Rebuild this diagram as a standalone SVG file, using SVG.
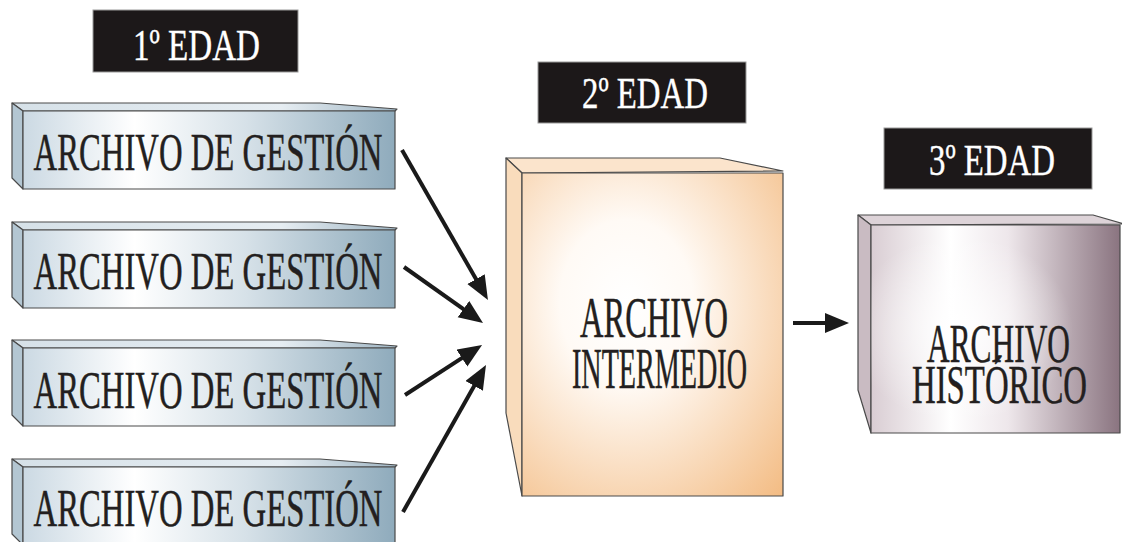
<svg xmlns="http://www.w3.org/2000/svg" width="1122" height="542" viewBox="0 0 1122 542">
  <defs>
    <style>
      .edge { stroke: #4a4a4a; stroke-width: 1.2; stroke-linejoin: round; }
      .lbl { fill: #1c1819; stroke: #9a9a9a; stroke-width: 1; }
      .lbl-txt { font-family: "Liberation Serif", "Times New Roman", serif; font-size: 45px; fill: #ffffff; stroke: #ffffff; stroke-width: 0.4; text-anchor: middle; }
      .box-txt { font-family: "Liberation Serif", "Times New Roman", serif; fill: #231f20; stroke: #231f20; stroke-width: 0.5; text-anchor: middle; }
      .arrow { stroke: #1a1a1a; stroke-width: 4; fill: none; marker-end: url(#head); }
    </style>
    <marker id="head" markerUnits="userSpaceOnUse" markerWidth="26" markerHeight="22" refX="10" refY="10" orient="auto" viewBox="0 0 26 22">
      <path d="M0,0 L24,10 L0,20 z" fill="#1a1a1a"/>
    </marker>
    <!-- management archive: steel blue -->
    <linearGradient id="gFrontBlue" x1="0" y1="0" x2="1" y2="0">
      <stop offset="0" stop-color="#cbd9e3"/>
      <stop offset="0.3" stop-color="#ffffff"/>
      <stop offset="0.6" stop-color="#d6e1e8"/>
      <stop offset="1" stop-color="#8fabbc"/>
    </linearGradient>
    <linearGradient id="gTopBlue" x1="0" y1="0" x2="1" y2="0">
      <stop offset="0" stop-color="#d6e1e8"/>
      <stop offset="0.7" stop-color="#e6edf2"/>
      <stop offset="1" stop-color="#9fb5c3"/>
    </linearGradient>
    <!-- intermediate archive: peach -->
    <radialGradient id="gFrontPeach" cx="0.4" cy="0.4" r="0.85">
      <stop offset="0" stop-color="#ffffff"/>
      <stop offset="0.3" stop-color="#fffaf5"/>
      <stop offset="1" stop-color="#f3bb82"/>
    </radialGradient>
    <!-- historic archive: mauve -->
    <linearGradient id="gFrontMauve" x1="0" y1="0" x2="1" y2="0">
      <stop offset="0" stop-color="#d9cdd3"/>
      <stop offset="0.32" stop-color="#ffffff"/>
      <stop offset="0.55" stop-color="#eee7eb"/>
      <stop offset="1" stop-color="#8a7480"/>
    </linearGradient>
    <radialGradient id="gGlow" cx="0.36" cy="0.5" r="0.45">
      <stop offset="0" stop-color="#ffffff" stop-opacity="0.9"/>
      <stop offset="1" stop-color="#ffffff" stop-opacity="0"/>
    </radialGradient>
  </defs>

  <rect width="1122" height="542" fill="#ffffff"/>

  <!-- age labels -->
  <g id="label-1">
    <rect class="lbl" x="93" y="10" width="205" height="62"/>
    <text class="lbl-txt" x="196.5" y="60" textLength="127" lengthAdjust="spacingAndGlyphs">1º EDAD</text>
  </g>
  <g id="label-2">
    <rect class="lbl" x="538" y="62" width="208" height="61"/>
    <text class="lbl-txt" x="645" y="108" textLength="126" lengthAdjust="spacingAndGlyphs">2º EDAD</text>
  </g>
  <g id="label-3">
    <rect class="lbl" x="884" y="128" width="208" height="61"/>
    <text class="lbl-txt" x="992" y="175" textLength="126" lengthAdjust="spacingAndGlyphs">3º EDAD</text>
  </g>

  <!-- management archives (four identical bars) -->
  <g id="gestion-1">
    <polygon class="edge" fill="url(#gTopBlue)" points="12,103 320,103 397,109 395,111 23,111"/>
    <polygon class="edge" fill="#b3c6d2" points="12,103 23,111 23,189 12,178"/>
    <rect class="edge" fill="url(#gFrontBlue)" x="23" y="111" width="372" height="78"/>
    <text class="box-txt" x="208" y="170" font-size="53" textLength="349" lengthAdjust="spacingAndGlyphs">ARCHIVO DE GESTIÓN</text>
  </g>
  <g id="gestion-2">
    <polygon class="edge" fill="url(#gTopBlue)" points="12,222 320,222 397,228 395,230 23,230"/>
    <polygon class="edge" fill="#b3c6d2" points="12,222 23,230 23,308 12,297"/>
    <rect class="edge" fill="url(#gFrontBlue)" x="23" y="230" width="372" height="78"/>
    <text class="box-txt" x="208" y="289" font-size="53" textLength="349" lengthAdjust="spacingAndGlyphs">ARCHIVO DE GESTIÓN</text>
  </g>
  <g id="gestion-3">
    <polygon class="edge" fill="url(#gTopBlue)" points="12,340 320,340 397,346 395,348 23,348"/>
    <polygon class="edge" fill="#b3c6d2" points="12,340 23,348 23,426 12,415"/>
    <rect class="edge" fill="url(#gFrontBlue)" x="23" y="348" width="372" height="78"/>
    <text class="box-txt" x="208" y="408" font-size="53" textLength="349" lengthAdjust="spacingAndGlyphs">ARCHIVO DE GESTIÓN</text>
  </g>
  <g id="gestion-4">
    <polygon class="edge" fill="url(#gTopBlue)" points="12,459 320,459 397,465 395,467 23,467"/>
    <polygon class="edge" fill="#b3c6d2" points="12,459 23,467 23,545 12,534"/>
    <rect class="edge" fill="url(#gFrontBlue)" x="23" y="467" width="372" height="78"/>
    <text class="box-txt" x="208" y="526" font-size="53" textLength="349" lengthAdjust="spacingAndGlyphs">ARCHIVO DE GESTIÓN</text>
  </g>

  <!-- intermediate archive -->
  <g id="intermedio">
    <polygon class="edge" fill="#fbe4cc" points="506,158 720,158 783,171 522,173"/>
    <polygon class="edge" fill="#f9dcbc" points="506,158 522,173 522,496 506,413"/>
    <rect class="edge" fill="url(#gFrontPeach)" x="522" y="173" width="261" height="323"/>
    <text class="box-txt" x="654" y="337" font-size="58" textLength="148" lengthAdjust="spacingAndGlyphs">ARCHIVO</text>
    <text class="box-txt" x="659.5" y="388" font-size="58" textLength="175" lengthAdjust="spacingAndGlyphs">INTERMEDIO</text>
  </g>

  <!-- historic archive -->
  <g id="historico">
    <polygon class="edge" fill="#ddd3d8" points="858,215 1093,215 1124,224 871,225"/>
    <polygon class="edge" fill="#c9bbc2" points="858,215 871,225 871,433 858,390"/>
    <rect class="edge" fill="url(#gFrontMauve)" x="871" y="225" width="249" height="208"/>
    <rect fill="url(#gGlow)" x="871" y="225" width="249" height="208"/>
    <text class="box-txt" x="998.5" y="362" font-size="55" textLength="143" lengthAdjust="spacingAndGlyphs">ARCHIVO</text>
    <text class="box-txt" x="999.5" y="403" font-size="55" textLength="175" lengthAdjust="spacingAndGlyphs">HISTÓRICO</text>
  </g>

  <!-- connectors -->
  <g id="connectors">
    <line class="arrow" x1="402" y1="150" x2="481" y2="287.8"/>
    <line class="arrow" x1="404" y1="267" x2="471.6" y2="314.9"/>
    <line class="arrow" x1="405" y1="395" x2="470.3" y2="352.6"/>
    <line class="arrow" x1="403" y1="512" x2="479.1" y2="377.2"/>
    <line class="arrow" x1="793" y1="323" x2="835" y2="323"/>
  </g>
</svg>
